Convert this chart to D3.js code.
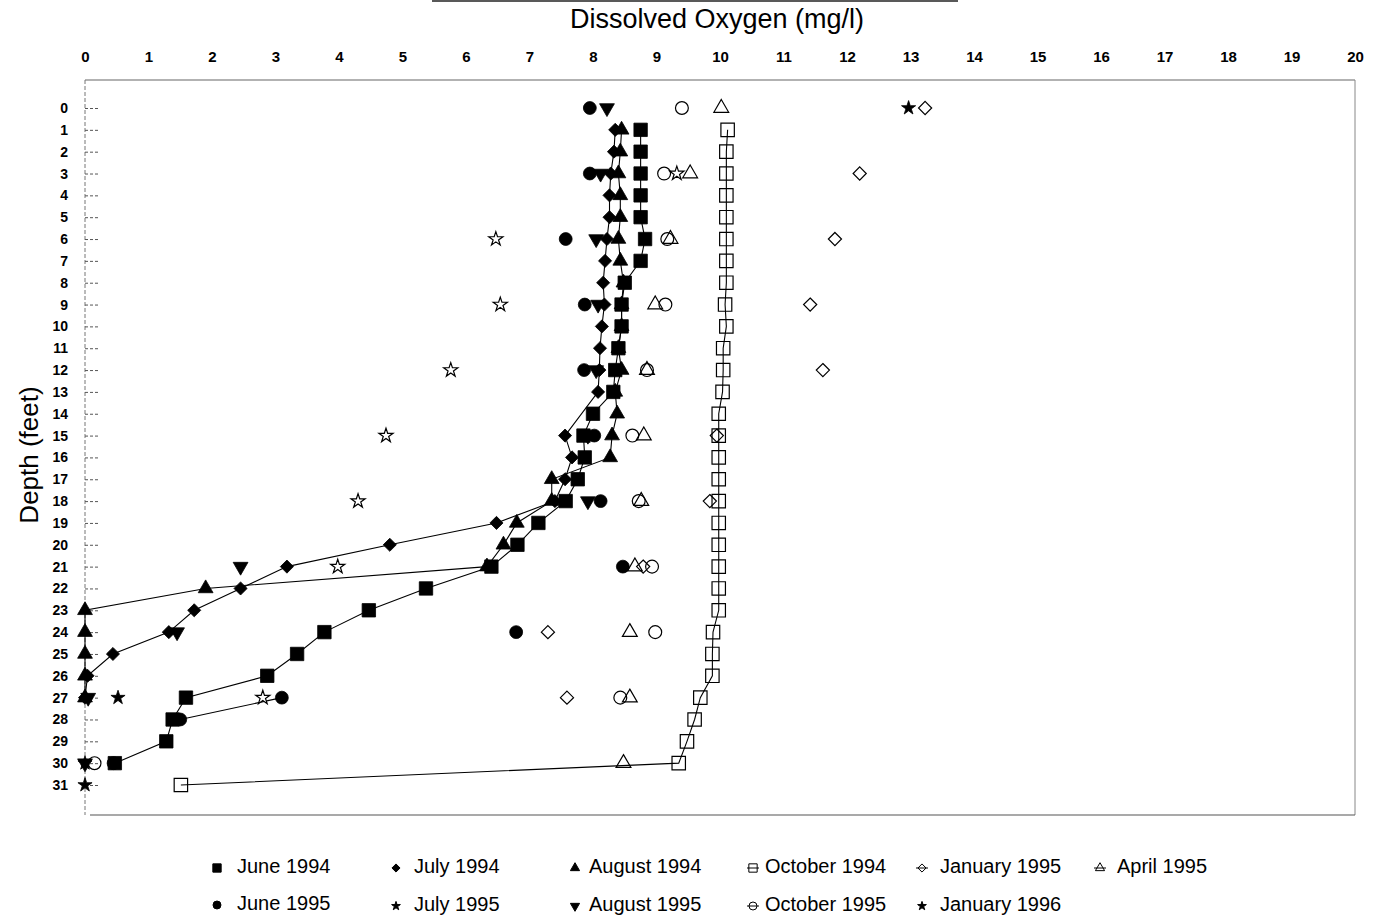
<!DOCTYPE html>
<html>
<head>
<meta charset="utf-8">
<script src="https://cdn.jsdelivr.net/npm/d3@7"></script>
<style>
  html, body { margin: 0; padding: 0; background: #fff; }
  svg { display: block; font-family: "Liberation Sans", Arial, sans-serif; }
</style>
</head>
<body>
<svg id="chart" width="1383" height="923"></svg>
<script>
// ---------- DATA ----------
const xTicks = d3.range(0, 21);           // 0..20 mg/l
const depthTicks = d3.range(0, 32);       // 0..31 feet

const june1994Depth = [1,2,3,4,5,6,7,8,9,10,11,12,13,14,15,16,17,18,19,20,21,22,23,24,25,26,27,28,29,30];
const june1994DO    = [8.75,8.75,8.75,8.75,8.75,8.82,8.75,8.5,8.45,8.45,8.4,8.35,8.32,8.0,7.85,7.87,7.76,7.57,7.14,6.81,6.4,5.37,4.47,3.77,3.34,2.87,1.59,1.38,1.28,0.47];

const july1994Depth = [1,2,3,4,5,6,7,8,9,10,11,12,13,15,16,17,18,19,20,21,22,23,24,25,26,27];
const july1994DO    = [8.35,8.33,8.28,8.26,8.26,8.22,8.19,8.16,8.18,8.14,8.11,8.1,8.08,7.56,7.67,7.56,7.4,6.48,4.8,3.18,2.45,1.72,1.32,0.44,0.04,0.0];

const aug1994Depth = [1,2,3,4,5,6,7,8,9,10,11,12,13,14,15,16,17,18,19,20,21,22,23,24,25,26,27];
const aug1994DO    = [8.45,8.43,8.4,8.43,8.43,8.4,8.43,8.48,8.45,8.45,8.4,8.45,8.35,8.38,8.3,8.27,7.35,7.35,6.8,6.59,6.33,1.9,0.0,0.0,0.0,0.0,0.0];

const oct1994Depth = [1,2,3,4,5,6,7,8,9,10,11,12,13,14,15,16,17,18,19,20,21,22,23,24,25,26,27,28,29,30,31];
const oct1994DO    = [10.12,10.1,10.1,10.1,10.1,10.1,10.1,10.1,10.08,10.1,10.05,10.05,10.04,9.98,9.98,9.98,9.98,9.98,9.98,9.98,9.98,9.98,9.98,9.89,9.88,9.88,9.69,9.6,9.48,9.35,1.51];

const jan1995Depth = [0,3,6,9,12,15,18,21,24,27];
const jan1995DO    = [13.23,12.2,11.81,11.42,11.62,9.95,9.84,8.79,7.29,7.59];

const apr1995Depth = [0,3,6,9,12,15,18,21,24,27,30];
const apr1995DO    = [10.02,9.53,9.22,8.98,8.85,8.8,8.76,8.66,8.58,8.58,8.48];

const june1995Depth = [0,3,6,9,12,15,18,21,24,27,28,30];
const june1995DO    = [7.95,7.95,7.57,7.87,7.86,8.02,8.12,8.47,6.79,3.1,1.5,0.45];

const july1995Depth = [3,6,9,12,15,18,21,27];
const july1995DO    = [9.32,6.47,6.54,5.76,4.74,4.3,3.98,2.8];

const aug1995Depth = [0,3,6,9,12,15,18,21,24,27,30];
const aug1995DO    = [8.22,8.12,8.05,8.08,8.05,7.92,7.92,2.45,1.45,0.05,0.0];

const oct1995Depth = [0,3,6,9,12,15,18,21,24,27,30];
const oct1995DO    = [9.4,9.12,9.17,9.14,8.85,8.62,8.72,8.93,8.98,8.43,0.15];

const jan1996Depth = [0,27,30,31];
const jan1996DO    = [12.97,0.52,0.0,0.0];

const seriesNames = ["June 1994","July 1994","August 1994","October 1994","January 1995","April 1995",
                     "June 1995","July 1995","August 1995","October 1995","January 1996"];

// ---------- STYLES (marker / line per series) ----------
const series = [
  {name: seriesNames[0],  depth: june1994Depth, val: june1994DO, sym: "square",  fill: "#000", join: "all"},
  {name: seriesNames[1],  depth: july1994Depth, val: july1994DO, sym: "diamond", fill: "#000", join: "all"},
  {name: seriesNames[2],  depth: aug1994Depth,  val: aug1994DO,  sym: "triUp",   fill: "#000", join: "all"},
  {name: seriesNames[3],  depth: oct1994Depth,  val: oct1994DO,  sym: "square",  fill: "none", join: "all"},
  {name: seriesNames[4],  depth: jan1995Depth,  val: jan1995DO,  sym: "diamond", fill: "none", join: "none"},
  {name: seriesNames[5],  depth: apr1995Depth,  val: apr1995DO,  sym: "triUp",   fill: "none", join: "none"},
  {name: seriesNames[6],  depth: june1995Depth, val: june1995DO, sym: "circle",  fill: "#000", join: "adjacent"},
  {name: seriesNames[7],  depth: july1995Depth, val: july1995DO, sym: "star",    fill: "#fff", join: "none"},
  {name: seriesNames[8],  depth: aug1995Depth,  val: aug1995DO,  sym: "triDown", fill: "#000", join: "none"},
  {name: seriesNames[9],  depth: oct1995Depth,  val: oct1995DO,  sym: "circle",  fill: "none", join: "none"},
  {name: seriesNames[10], depth: jan1996Depth,  val: jan1996DO,  sym: "star",    fill: "#000", join: "none"}
];

// ---------- LAYOUT ----------
const svg = d3.select("#chart");
const plot = {left: 85, right: 1355, top: 80, bottom: 815};
const x = d3.scaleLinear().domain([0, 20]).range([85, 1355]);
const y = d3.scaleLinear().domain([0, 31]).range([108, 785]);

// frame
svg.append("line").attr("x1", plot.left).attr("x2", plot.right).attr("y1", plot.top).attr("y2", plot.top)
  .attr("stroke", "#666").attr("stroke-width", 1.2);
svg.append("line").attr("x1", plot.right).attr("x2", plot.right).attr("y1", plot.top).attr("y2", plot.bottom)
  .attr("stroke", "#888").attr("stroke-width", 1);
svg.append("line").attr("x1", plot.left + 5).attr("x2", plot.right).attr("y1", plot.bottom).attr("y2", plot.bottom)
  .attr("stroke", "#555").attr("stroke-width", 1.2);
svg.append("line").attr("x1", plot.left).attr("x2", plot.left).attr("y1", plot.top).attr("y2", plot.bottom)
  .attr("stroke", "#777").attr("stroke-width", 1).attr("stroke-dasharray", "4,2");

// stray rule above title (from the scanned page)
svg.append("line").attr("x1", 432).attr("x2", 958).attr("y1", 1).attr("y2", 1)
  .attr("stroke", "#222").attr("stroke-width", 1.6);

// top x axis
const xAxis = svg.append("g").attr("transform", `translate(0,${plot.top - 18})`)
  .call(d3.axisTop(x).tickValues(xTicks).tickSize(0).tickPadding(0).tickFormat(d3.format("d")));
xAxis.select(".domain").remove();
xAxis.selectAll("text").attr("font-size", 15).attr("font-weight", "bold").attr("fill", "#000")
  .attr("font-family", "'Liberation Sans', Arial, sans-serif");

// left y axis with inward dashed ticks
const yAxis = svg.append("g").attr("transform", `translate(${plot.left},0)`)
  .call(d3.axisLeft(y).tickValues(depthTicks).tickSizeInner(-15).tickSizeOuter(0).tickPadding(17).tickFormat(d3.format("d")));
yAxis.select(".domain").remove();
yAxis.selectAll(".tick line").attr("stroke", "#555").attr("stroke-dasharray", "3,2");
yAxis.selectAll("text").attr("font-size", 14).attr("font-weight", "bold").attr("fill", "#000")
  .attr("font-family", "'Liberation Sans', Arial, sans-serif");

// titles
svg.append("text").attr("x", 717).attr("y", 28).attr("text-anchor", "middle")
  .attr("font-size", 27).attr("fill", "#000").text("Dissolved Oxygen (mg/l)");
svg.append("text").attr("transform", "translate(38,455) rotate(-90)").attr("text-anchor", "middle")
  .attr("font-size", 26).attr("fill", "#000").text("Depth (feet)");

// ---------- SYMBOLS ----------
function symbolPath(sym, scale) {
  const s = scale || 1;
  switch (sym) {
    case "square":  return d3.symbol(d3.symbolSquare, 180 * s * s)();
    case "diamond": return d3.symbol(d3.symbolDiamond2, 110 * s * s)();
    case "triUp":   return d3.symbol(d3.symbolTriangle, 95 * s * s)();
    case "triDown": return d3.symbol(d3.symbolTriangle, 95 * s * s)();
    case "circle":  return d3.symbol(d3.symbolCircle, 130 * s * s)();
    case "star":    return d3.symbol(d3.symbolStar, 62 * s * s)();
  }
}
function rot(sym) { return sym === "triDown" ? " rotate(180)" : ""; }

// ---------- LINES ----------
const lineGen = d3.line().x(d => x(d.v)).y(d => y(d.d));
const linesG = svg.append("g");
series.forEach(s => {
  const pts = s.depth.map((d, i) => ({d: d, v: s.val[i]}));
  if (s.join === "all") {
    linesG.append("path").attr("d", lineGen(pts)).attr("fill", "none")
      .attr("stroke", "#000").attr("stroke-width", 1.1);
  } else if (s.join === "adjacent") {
    for (let i = 1; i < pts.length; i++) {
      if (pts[i].d - pts[i - 1].d === 1) {
        linesG.append("path").attr("d", lineGen([pts[i - 1], pts[i]])).attr("fill", "none")
          .attr("stroke", "#000").attr("stroke-width", 1.1);
      }
    }
  }
});

// ---------- MARKERS ----------
const drawOrder = [3, 4, 5, 9, 7, 10, 6, 8, 1, 2, 0];
drawOrder.forEach(k => {
  const s = series[k];
  const g = svg.append("g");
  s.depth.forEach((d, i) => {
    g.append("path")
      .attr("d", symbolPath(s.sym))
      .attr("transform", `translate(${x(s.val[i])},${y(d)})${rot(s.sym)}`)
      .attr("fill", s.fill === "none" ? "#fff" : s.fill)
      .attr("fill-opacity", s.fill === "none" ? 0 : 1)
      .attr("stroke", "#000")
      .attr("stroke-width", s.fill === "#000" ? 0.8 : 1.2);
  });
});

// ---------- LEGEND ----------
const legendPos = [
  {mx: 217, tx: 237, y: 866}, {mx: 396, tx: 414, y: 866}, {mx: 575, tx: 589, y: 866},
  {mx: 753, tx: 765, y: 866}, {mx: 922, tx: 940, y: 866}, {mx: 1100, tx: 1117, y: 866},
  {mx: 217, tx: 237, y: 903}, {mx: 396, tx: 414, y: 904}, {mx: 575, tx: 589, y: 904},
  {mx: 753, tx: 765, y: 904}, {mx: 922, tx: 940, y: 904}
];
const legend = svg.append("g");
series.forEach((s, i) => {
  const p = legendPos[i];
  const g = legend.append("g").attr("transform", `translate(${p.mx},${p.y + 2})`);
  if (s.fill === "none") {
    g.append("line").attr("x1", -6).attr("x2", 6).attr("y1", 0).attr("y2", 0)
      .attr("stroke", "#000").attr("stroke-width", 1);
  }
  g.append("path").attr("d", symbolPath(s.sym, 0.62))
    .attr("transform", rot(s.sym).trim())
    .attr("fill", s.fill === "none" ? "none" : "#000")
    .attr("stroke", "#000").attr("stroke-width", 1);
  legend.append("text").attr("x", p.tx).attr("y", p.y + 7)
    .attr("font-size", 20).attr("fill", "#000").text(s.name);
});
</script>
</body>
</html>
